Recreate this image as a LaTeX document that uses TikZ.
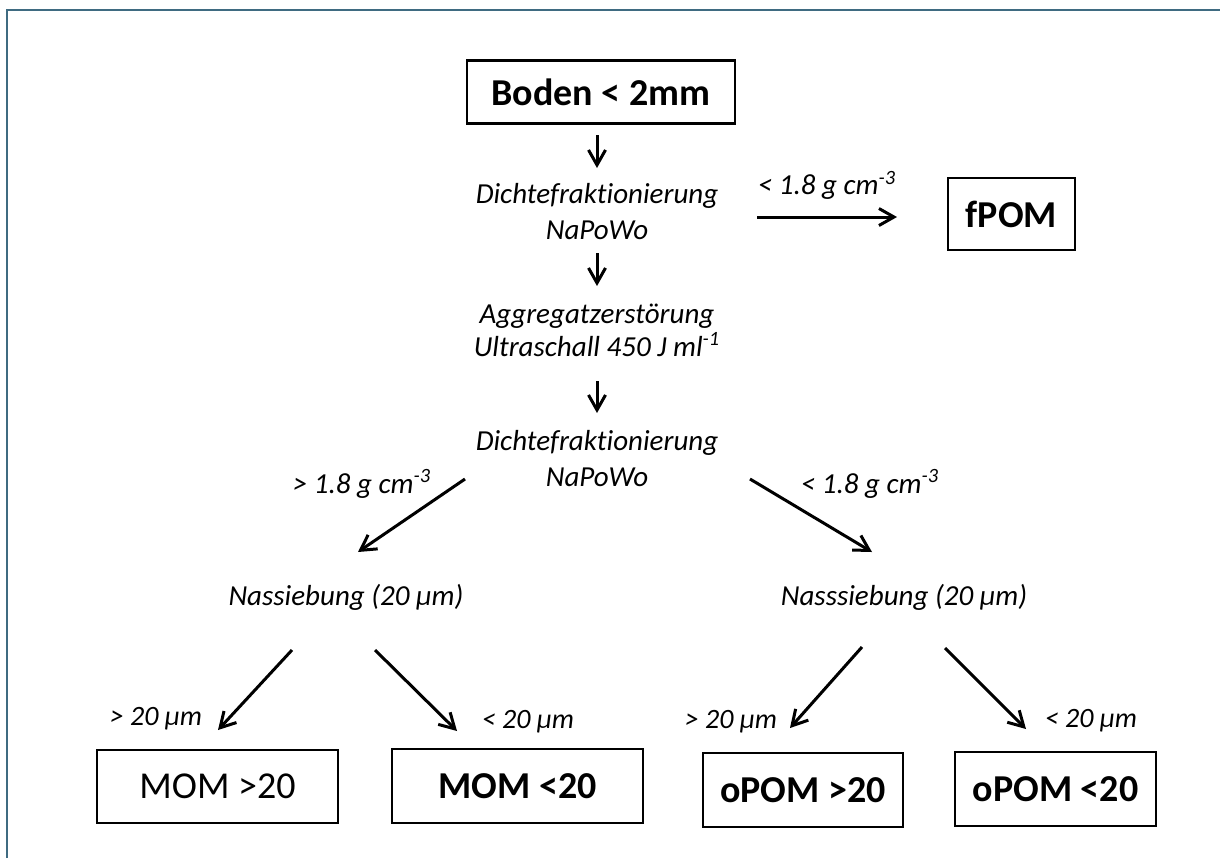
\documentclass[tikz,border=0pt]{standalone}
\usepackage{fontspec}
\setmainfont{Carlito}[Ligatures=NoCommon]
\usetikzlibrary{arrows.meta}
\usetikzlibrary{positioning}

\definecolor{framecol}{HTML}{3F6B81}

\tikzset{
  box/.style={draw, line width=1.4pt, inner sep=0pt,
      font=\bfseries\fontsize{19}{23}\selectfont},
  thinbox/.style={box, line width=0.7pt, font=\fontsize{19}{23}\selectfont},
  proc/.style={align=center, inner sep=0pt,
      font=\itshape\fontsize{14.5}{18}\selectfont},
  lab/.style={inner sep=0pt, font=\itshape\fontsize{14.5}{18}\selectfont},
  sublab/.style={inner sep=0pt, font=\itshape\fontsize{14}{16}\selectfont},
  flow/.style={-{Straight Barb[length=7.5pt,width=8.5pt]}, line width=1.5pt},
}

\begin{document}
\begin{tikzpicture}[x=0.5pt,y=0.5pt]
  \useasboundingbox (0,0) rectangle (1220,-858);
  % frame (only top and left edge)
  \draw[framecol, line width=1.1pt] (7,-858) -- (7,-10) -- (1220,-10);

  \node[box, minimum width=134pt, minimum height=31.5pt] (boden) at (601,-92) {Boden < 2mm};
  \node[proc] (dichte_1) at (597,-212) {Dichtefraktionierung\\NaPoWo};
  \node[box, minimum width=63.5pt, minimum height=36pt] (fpom) at (1011.5,-214) {fPOM};
  \node[proc, font=\itshape\fontsize{14.5}{16.5}\selectfont] (aggr) at (597,-330)
      {Aggregatzerstörung\\Ultraschall 450 J ml\textsuperscript{-1}};
  \node[proc] (dichte_2) at (597,-459) {Dichtefraktionierung\\NaPoWo};

  \node[proc] (sieb_l) at (346,-597) {Nassiebung (20 µm)};
  \node[proc] (sieb_r) at (904,-597) {Nasssiebung (20 µm)};

  \node[thinbox, minimum width=120.5pt, minimum height=36.5pt] (mom_g) at (217.5,-786.5) {MOM >20};
  \node[box, minimum width=125.5pt, minimum height=37pt] (mom_k) at (517.5,-786) {MOM <20};
  \node[box, minimum width=100pt, minimum height=37pt] (opom_g) at (803,-790) {oPOM >20};
  \node[box, minimum width=100.5pt, minimum height=37pt] (opom_k) at (1055.5,-789) {oPOM <20};

  % labels
  \node[lab] (d_l) at (362,-484) {> 1.8 g cm\textsuperscript{-3}};
  \node[lab] (d_r) at (870,-484) {< 1.8 g cm\textsuperscript{-3}};
  \node[sublab] (g_l) at (156,-719) {> 20 µm};
  \node[sublab] (k_l) at (528,-722) {< 20 µm};
  \node[sublab] (g_r) at (731,-722) {> 20 µm};
  \node[sublab] (k_r) at (1091,-721) {< 20 µm};

  \path[flow]
    ([shift={(-4,-43)}]boden.center) edge ([shift={(0,44)}]dichte_1.center)
    ([shift={(0,-41)}]dichte_1.center) edge ([shift={(0,44)}]aggr.center)
    ([shift={(0,-51)}]aggr.center) edge ([shift={(0,46)}]dichte_2.center)
    ([shift={(160,-5)}]dichte_1.center) edge node[lab, above=8pt] {< 1.8 g cm\textsuperscript{-3}}
        ([shift={(-114.5,-3)}]fpom.center)
    ([shift={(-132,-20)}]dichte_2.center) edge ([shift={(12,45)}]sieb_l.center)
    ([shift={(153,-20)}]dichte_2.center) edge ([shift={(-32,45)}]sieb_r.center)
    ([shift={(-54,-53)}]sieb_l.center) edge ([shift={(0.5,56.5)}]mom_g.center)
    ([shift={(29,-53)}]sieb_l.center) edge ([shift={(-60.5,55)}]mom_k.center)
    ([shift={(-42,-50)}]sieb_r.center) edge ([shift={(-13,62)}]opom_g.center)
    ([shift={(41,-51)}]sieb_r.center) edge ([shift={(-29.5,60)}]opom_k.center);
\end{tikzpicture}
\end{document}
